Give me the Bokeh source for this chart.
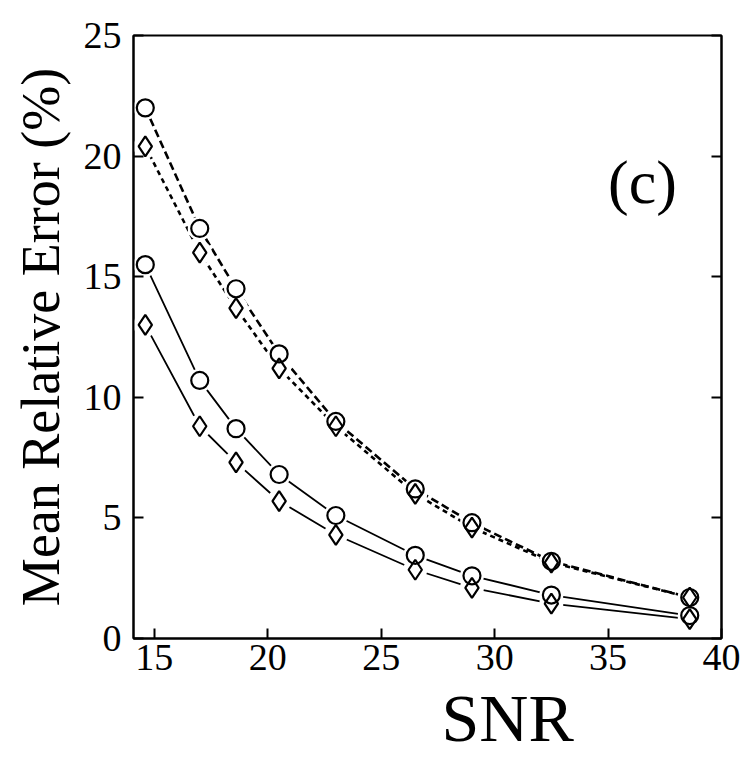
from bokeh.plotting import figure
from bokeh.models import LinearAxis, Range1d, FixedTicker, Label, Title
from bokeh.embed import file_html
from bokeh.resources import INLINE

snr = [14.6, 17.0, 18.6, 20.5, 23.0, 26.5, 29.0, 32.5, 38.6]
dashed_circle = [22.0, 17.0, 14.5, 11.8, 9.0, 6.2, 4.8, 3.2, 1.7]
dashed_diamond = [20.4, 16.0, 13.7, 11.2, 8.8, 6.0, 4.6, 3.15, 1.7]
solid_circle = [15.5, 10.7, 8.7, 6.8, 5.1, 3.45, 2.6, 1.8, 0.95]
solid_diamond = [13.0, 8.8, 7.3, 5.7, 4.3, 2.85, 2.1, 1.45, 0.8]
x_ticks = [15, 20, 25, 30, 35, 40]
y_ticks = [0, 5, 10, 15, 20, 25]

FONT = "Times New Roman"

p = figure(width=741, height=773, output_backend="svg", toolbar_location=None,
           x_range=Range1d(14.08, 40), y_range=Range1d(0, 25),
           min_border_left=133, min_border_right=20, min_border_top=35,
           min_border_bottom=135)
p.grid.visible = False
p.outline_line_color = "black"
p.outline_line_width = 2
p.background_fill_color = "white"
p.border_fill_color = "white"

for ax in (p.xaxis[0], p.yaxis[0]):
    ax.axis_line_width = 2
    ax.major_tick_in = 10
    ax.major_tick_out = 0
    ax.major_tick_line_width = 2
    ax.minor_tick_line_color = None
    ax.major_label_text_font = FONT
    ax.major_label_text_font_size = "38px"
    ax.major_label_text_color = "black"
    ax.axis_label_text_font = FONT
    ax.axis_label_text_font_style = "normal"
    ax.axis_label_text_color = "black"

p.xaxis[0].ticker = FixedTicker(ticks=x_ticks)
p.yaxis[0].ticker = FixedTicker(ticks=y_ticks)
p.xaxis[0].major_label_standoff = 6
p.yaxis[0].axis_label = "Mean Relative Error (%)"
p.yaxis[0].axis_label_text_font_size = "54px"
p.yaxis[0].major_label_standoff = 12
p.yaxis[0].axis_label_standoff = 10

right = LinearAxis(ticker=FixedTicker(ticks=y_ticks))
right.axis_line_width = 2
right.major_tick_in = 10
right.major_tick_out = 0
right.major_tick_line_width = 2
right.minor_tick_line_color = None
right.major_label_text_font_size = "1px"
right.major_label_text_color = None
right.major_label_standoff = 0
p.add_layout(right, "right")

series = [
    (dashed_circle, "circle", "8 4", 2.6),
    (dashed_diamond, "diamond", "5 4", 2.6),
    (solid_circle, "circle", "solid", 1.8),
    (solid_diamond, "diamond", "solid", 1.8),
]

for ys, m, dash, lw in series:
    p.line(snr, ys, line_color="black", line_width=lw, line_dash=dash)
for ys, m, dash, lw in series:
    p.scatter(snr, ys, marker="circle", size=24, fill_color="white", line_color=None)
for ys, m, dash, lw in series:
    p.scatter(snr, ys, marker=m, size=17 if m == "circle" else 20,
              fill_color="white", fill_alpha=0.0, line_color="black", line_width=2.2)

p.add_layout(Label(x=35.0, y=17.5, text="(c)", text_font=FONT,
                   text_font_size="62px", text_color="black"))
p.add_layout(Title(text="SNR", align="left", offset=308, text_font=FONT,
                   text_font_style="normal", text_font_size="68px",
                   text_color="black", standoff=10), "below")

open("out.html", "w").write(file_html(p, INLINE))
